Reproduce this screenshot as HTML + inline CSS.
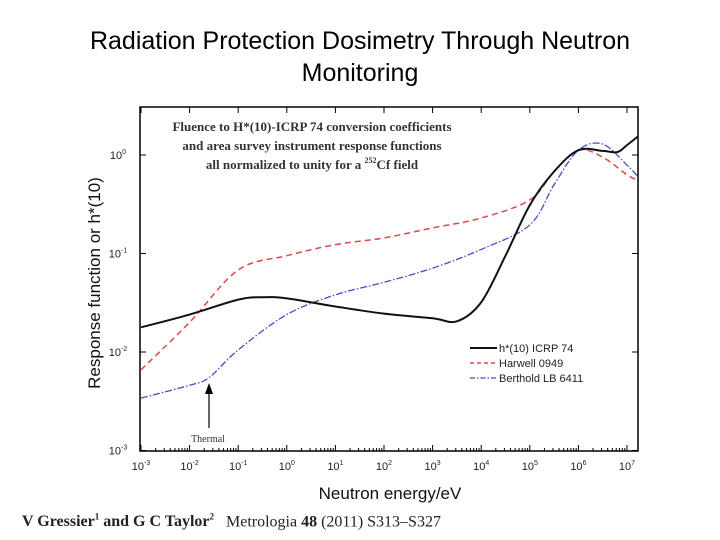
<!DOCTYPE html>
<html><head><meta charset="utf-8"><style>
body{margin:0;width:720px;height:540px;background:#fff;overflow:hidden;font-family:"Liberation Sans",sans-serif}
#title{position:absolute;left:0;top:25px;width:720px;text-align:center;font-size:25px;line-height:32px;color:#000}
#foot{position:absolute;left:22px;top:512px;font-family:"Liberation Serif",serif;font-size:16px;color:#222}
</style></head><body>
<div id="title">Radiation Protection Dosimetry Through Neutron<br>Monitoring</div>
<svg id="chart" width="720" height="540" style="position:absolute;left:0;top:0"></svg>
<div id="foot"><b>V Gressier<sup style="font-size:9px">1</sup> and G C Taylor<sup style="font-size:9px">2</sup></b>&nbsp;&nbsp; Metrologia <b>48</b> (2011) S313–S327</div>
<script>
const xTicks=[-3,-2,-1,0,1,2,3,4,5,6,7];
const yTicks=[0,-1,-2,-3];
const blackE=[-3,-2,-1,-0.5,0,1,2,3,3.5,4,4.5,5,5.5,6,6.5,6.8,7,7.23];
const blackV=[0.0178,0.024,0.034,0.036,0.035,0.029,0.0245,0.022,0.0205,0.032,0.095,0.31,0.68,1.12,1.1,1.07,1.26,1.55];
const redE=[-3,-2,-1,0,1,2,3,4,5,5.5,6,6.5,7,7.23];
const redV=[0.0066,0.020,0.068,0.095,0.123,0.144,0.182,0.229,0.35,0.68,1.12,0.95,0.63,0.55];
const blueE=[-3,-2,-1.6,-1,0,1,2,3,4,5,5.5,6,6.5,7,7.23];
const blueV=[0.0034,0.0046,0.0055,0.0105,0.024,0.038,0.051,0.071,0.11,0.195,0.5,1.12,1.29,0.79,0.60];
const L=140,R=638,T=107,B=451;
const X=e=>141+(e+3)*48.6;
const Y=v=>155-Math.log10(v)*98.5;
const YL=l=>155-l*98.5;
const svg=document.getElementById('chart');
const NS='http://www.w3.org/2000/svg';
function mk(t,a,p){const el=document.createElementNS(NS,t);for(const k in a)el.setAttribute(k,a[k]);(p||svg).appendChild(el);return el;}
const frame=mk('rect',{x:L,y:T,width:R-L,height:B-T,fill:'none',stroke:'#000','stroke-width':1.5});


xTicks.forEach(e=>{
  const x=X(e);
  mk('line',{x1:x,x2:x,y1:B,y2:B-6,stroke:'#000'});
  mk('line',{x1:x,x2:x,y1:T,y2:T+6,stroke:'#000'});
  if(e<7)for(let m=2;m<10;m++){const xm=X(e+Math.log10(m));if(xm<R){mk('line',{x1:xm,x2:xm,y1:B,y2:B-3,stroke:'#000'});}}
  const t=mk('text',{x:x,y:470,'font-size':11,'text-anchor':'middle',fill:'#222'});
  
  
  t.innerHTML='10<tspan dy="-5" font-size="7">'+e+'</tspan>';
});
yTicks.forEach(l=>{
  const y=YL(l);
  mk('line',{x1:L,x2:L+6,y1:y,y2:y,stroke:'#000'});
  mk('line',{x1:R,x2:R-6,y1:y,y2:y,stroke:'#000'});
  const t=mk('text',{x:118,y:y+4,'font-size':11,'text-anchor':'middle',fill:'#222'});
  
  
  t.innerHTML='10<tspan dy="-5" font-size="7">'+l+'</tspan>';
});
const xt=mk('text',{x:390,y:499,'font-size':17,'text-anchor':'middle',fill:'#111'});
xt.textContent='Neutron energy/eV';


const yt=mk('text',{x:0,y:0,'font-size':17,'text-anchor':'middle',fill:'#111',transform:'translate(100,283) rotate(-90)'});
yt.textContent='Response function or h*(10)';


['Fluence to H*(10)-ICRP 74 conversion coefficients','and area survey instrument response functions'].forEach((s,i)=>{
  const t=mk('text',{x:312,y:131+i*19,'font-size':13,'font-weight':'bold','font-family':'Liberation Serif,serif','text-anchor':'middle',fill:'#333'});
  t.textContent=s;
  
  
});
const a3=mk('text',{x:312,y:169,'font-size':13,'font-weight':'bold','font-family':'Liberation Serif,serif','text-anchor':'middle',fill:'#333'});
a3.innerHTML='all normalized to unity for a <tspan dy="-6" font-size="8">252</tspan><tspan dy="6">Cf field</tspan>';


function path(E,V){
  const p=E.map((e,i)=>[X(e),Y(V[i])]);
  let d='M'+p[0][0]+','+p[0][1];
  for(let i=0;i<p.length-1;i++){
    const p0=p[i-1]||p[i],p1=p[i],p2=p[i+1],p3=p[i+2]||p2;
    d+=' C'+(p1[0]+(p2[0]-p0[0])/6)+','+(p1[1]+(p2[1]-p0[1])/6)+' '+(p2[0]-(p3[0]-p1[0])/6)+','+(p2[1]-(p3[1]-p1[1])/6)+' '+p2[0]+','+p2[1];
  }
  return d;
}
const clip=mk('clipPath',{id:'c'});mk('rect',{x:L,y:T,width:R-L,height:B-T},clip);
const s1=mk('path',{d:path(redE,redV),fill:'none',stroke:'#e0474c','stroke-width':1.5,'stroke-dasharray':'6,4','clip-path':'url(#c)'});


const s2=mk('path',{d:path(blueE,blueV),fill:'none',stroke:'#4a4ac8','stroke-width':1.3,'stroke-dasharray':'7,2,1.5,2','clip-path':'url(#c)'});


const s3=mk('path',{d:path(blackE,blackV),fill:'none',stroke:'#111','stroke-width':2,'clip-path':'url(#c)'});


const arrow=mk('g',{});


mk('line',{x1:209,x2:209,y1:428,y2:392,stroke:'#000','stroke-width':1.2},arrow);
mk('polygon',{points:'205,394 213,394 209,383',fill:'#000'},arrow);
const th=mk('text',{x:208,y:442,'font-size':10,'font-family':'Liberation Serif,serif','text-anchor':'middle',fill:'#333'});
th.textContent='Thermal';


[['h*(10) ICRP 74','#111','',2],['Harwell 0949','#e0474c','4,3',1.5],['Berthold LB 6411','#4a4ac8','5,2,1.5,2',1.3]].forEach((l,i)=>{
  const g=mk('g',{});
  
  
  const y=348+i*15;
  mk('line',{x1:470,x2:497,y1:y,y2:y,stroke:l[1],'stroke-width':l[3],'stroke-dasharray':l[2]},g);
  const t=mk('text',{x:499,y:y+4,'font-size':11,fill:'#222'},g);t.textContent=l[0];
});
</script>
</body></html>
